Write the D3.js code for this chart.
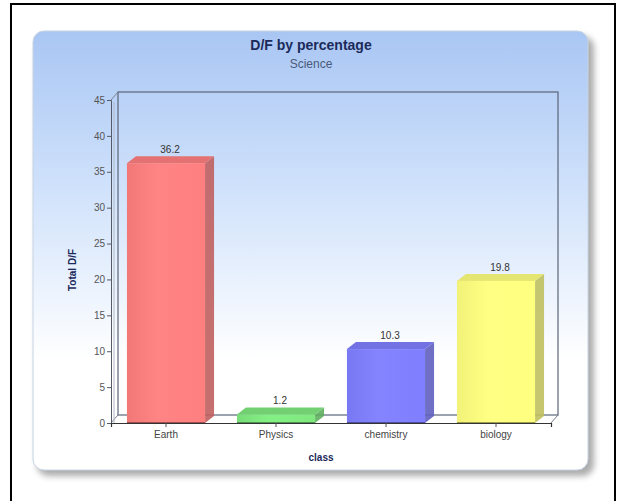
<!DOCTYPE html>
<html><head><meta charset="utf-8">
<script src="https://cdn.jsdelivr.net/npm/d3@7"></script>
<style>html,body{margin:0;padding:0;background:#fff;}svg{display:block;}</style>
</head><body>
<svg id="chart" width="625" height="501"></svg>
<script>
const categories = ["Earth", "Physics", "chemistry", "biology"];
const values = [36.2, 1.2, 10.3, 19.8];
const yTicks = [0, 5, 10, 15, 20, 25, 30, 35, 40, 45];
const barColors = ["#ff7f7f", "#7fe87f", "#7f7fff", "#ffff7f"];
const title = "D/F by percentage";
const subtitle = "Science";
const yTitle = "Total D/F";
const xTitle = "class";

const svg = d3.select("#chart");
const defs = svg.append("defs");

// outer frame
svg.append("rect").attr("x", 11).attr("y", 4).attr("width", 604).attr("height", 510)
  .attr("fill", "#fff").attr("stroke", "#000").attr("stroke-width", 2);

// panel shadow
const sh = defs.append("filter").attr("id", "sh").attr("x", "-5%").attr("y", "-5%").attr("width", "115%").attr("height", "115%");
sh.append("feGaussianBlur").attr("stdDeviation", 3);
svg.append("rect").attr("x", 37).attr("y", 36).attr("width", 557).attr("height", 440).attr("rx", 12)
  .attr("fill", "#888").attr("opacity", 0.7).attr("filter", "url(#sh)");

const bg = defs.append("linearGradient").attr("id", "bg").attr("x1", 0).attr("y1", 0).attr("x2", 0).attr("y2", 1);
bg.append("stop").attr("offset", "0%").attr("stop-color", "#a9c6f3");
bg.append("stop").attr("offset", "35%").attr("stop-color", "#cfe1fb");
bg.append("stop").attr("offset", "75%").attr("stop-color", "#ffffff");
bg.append("stop").attr("offset", "100%").attr("stop-color", "#ffffff");
svg.append("rect").attr("x", 33).attr("y", 31).attr("width", 555).attr("height", 439).attr("rx", 11)
  .attr("fill", "url(#bg)").attr("stroke", "#c8d4e4").attr("stroke-width", 1);

// titles
svg.append("text").attr("x", 311).attr("y", 50).attr("text-anchor", "middle")
  .attr("font-family", "Liberation Sans, Arial, sans-serif").attr("font-weight", "bold").attr("font-size", 14)
  .attr("fill", "#1b2a5a").text(title);
svg.append("text").attr("x", 311).attr("y", 68).attr("text-anchor", "middle")
  .attr("font-family", "Liberation Sans, Arial, sans-serif").attr("font-size", 12)
  .attr("fill", "#4a5a7a").text(subtitle);

// scales
const x0 = 111, x1 = 551, yBottom = 423, yTop = 100;
const dX = 7, dY = -8;
const x = d3.scaleBand().domain(categories).range([x0, x1]).paddingInner(0.29).paddingOuter(0.145);
const y = d3.scaleLinear().domain([0, 45]).range([yBottom, yTop]);

// back wall
svg.append("rect").attr("x", x0 + dX).attr("y", y(45) + dY).attr("width", x1 - x0)
  .attr("height", y(0) - y(45)).attr("fill", "none").attr("stroke", "#5a6478").attr("stroke-width", 1.2);
// left wall & floor outlines
svg.append("path").attr("d", `M${x0},${y(0)} L${x0 + dX},${y(0) + dY} M${x1},${y(0)} L${x1 + dX},${y(0) + dY} M${x0},${y(45)} L${x0 + dX},${y(45) + dY}`)
  .attr("stroke", "#7a8290").attr("fill", "none");
svg.append("path").attr("d", `M${x0 + 3},${y(0)} L${x0 + 3},${y(45) + 2}`).attr("stroke", "#b0b8c4").attr("fill","none");

// y axis
const yAxis = d3.axisLeft(y).tickValues(yTicks).tickSize(4).tickPadding(2);
const gy = svg.append("g").attr("transform", `translate(${x0},0)`).call(yAxis);
gy.select(".domain").attr("stroke", "#555a66");
gy.selectAll(".tick line").attr("stroke", "#555a66");
gy.selectAll(".tick text").attr("font-family", "Liberation Sans, Arial, sans-serif").attr("font-size", 10).attr("fill", "#555");

// bars
const dbX = 9, dbY = -7;
const g = svg.append("g");
categories.forEach((c, i) => {
  const col = d3.color(barColors[i]);
  const bx = x(c), bw = x.bandwidth(), top = y(values[i]), bot = y(0);
  const gid = "bg" + i;
  const lg = defs.append("linearGradient").attr("id", gid).attr("x1", 0).attr("x2", 1).attr("y1", 0).attr("y2", 0);
  lg.append("stop").attr("offset", "0%").attr("stop-color", col.darker(0.15));
  lg.append("stop").attr("offset", "40%").attr("stop-color", col.brighter(0.1));
  lg.append("stop").attr("offset", "100%").attr("stop-color", col);
  // side
  g.append("path").attr("d", `M${bx + bw},${bot} L${bx + bw + dbX},${bot + dbY} L${bx + bw + dbX},${top + dbY} L${bx + bw},${top} Z`)
    .attr("fill", col.darker(0.8)).attr("opacity", 0.9);
  // top
  g.append("path").attr("d", `M${bx},${top} L${bx + dbX},${top + dbY} L${bx + bw + dbX},${top + dbY} L${bx + bw},${top} Z`)
    .attr("fill", col.darker(0.3));
  // front
  g.append("rect").attr("x", bx).attr("y", top).attr("width", bw).attr("height", bot - top)
    .attr("fill", `url(#${gid})`);
  g.append("line").attr("x1", bx).attr("x2", bx + bw).attr("y1", bot).attr("y2", bot)
    .attr("stroke", col.darker(2)).attr("stroke-width", 1.5);
  // value label
  g.append("text").attr("x", bx + bw / 2 + 4).attr("y", top + dbY - 3).attr("text-anchor", "middle")
    .attr("font-family", "Liberation Sans, Arial, sans-serif").attr("font-size", 10).attr("fill", "#333")
    .text(values[i]);
});

// x axis
const xAxis = d3.axisBottom(x).tickSize(4).tickPadding(4);
const gx = svg.append("g").attr("transform", `translate(0,${y(0)})`).call(xAxis);
gx.select(".domain").attr("stroke", "#333").attr("stroke-width", 1.2);
gx.selectAll(".tick line").attr("stroke", "#555");
gx.selectAll(".tick text").attr("font-family", "Liberation Sans, Arial, sans-serif").attr("font-size", 10).attr("fill", "#444");

// axis titles
svg.append("text").attr("transform", `translate(76,270) rotate(-90)`).attr("text-anchor", "middle")
  .attr("font-family", "Liberation Sans, Arial, sans-serif").attr("font-weight", "bold").attr("font-size", 10)
  .attr("fill", "#1b2a5a").text(yTitle);
svg.append("text").attr("x", 321).attr("y", 461).attr("text-anchor", "middle")
  .attr("font-family", "Liberation Sans, Arial, sans-serif").attr("font-weight", "bold").attr("font-size", 10)
  .attr("fill", "#1b2a5a").text(xTitle);
</script>
</body></html>
